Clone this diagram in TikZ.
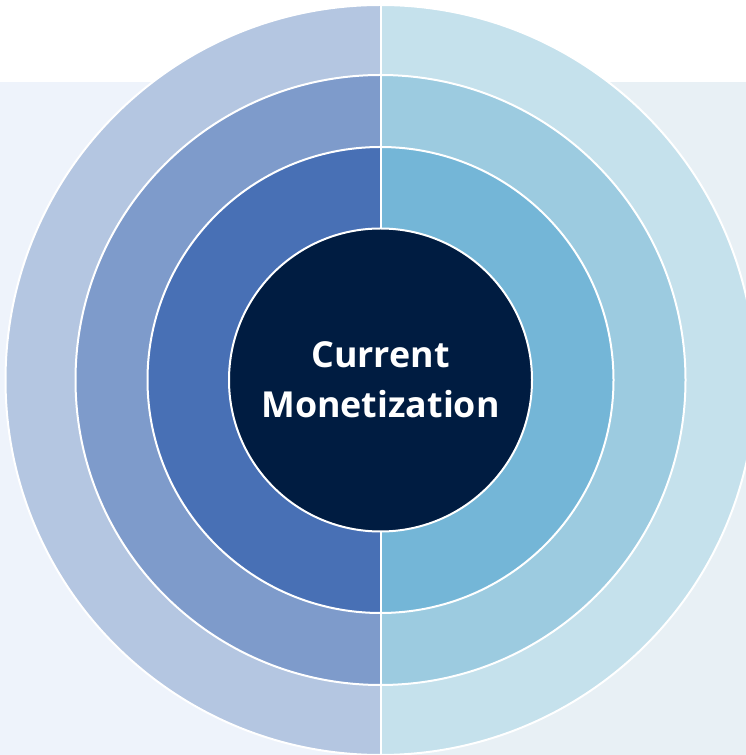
\documentclass[tikz,border=0pt]{standalone}
\usepackage{fontspec}
\setmainfont{Open Sans}
\definecolor{bgleft}{HTML}{EEF3FB}
\definecolor{bgright}{HTML}{E8F0F5}
\definecolor{outerL}{HTML}{B4C6E1}
\definecolor{outerR}{HTML}{C5E1EC}
\definecolor{midL}{HTML}{7E9BCB}
\definecolor{midR}{HTML}{9CCBE0}
\definecolor{innerL}{HTML}{4870B5}
\definecolor{innerR}{HTML}{74B6D7}
\definecolor{navy}{HTML}{001C41}
\tikzset{
  gap/.style={white,line width=2pt},
  corenode/.style={circle,fill=navy,draw=white,line width=2pt,minimum size=303pt,
    text=white,align=center,font=\bfseries\fontsize{35.8}{50}\selectfont}
}
\begin{document}
\begin{tikzpicture}[x=1pt,y=1pt]
  \useasboundingbox (0,0) rectangle (746,755);
  \clip (0,0) rectangle (746,755);
  % backdrop
  \fill[bgleft]  (0,0) rectangle (380.5,673);
  \fill[bgright] (380.5,0) rectangle (746,673);
  \coordinate (c) at (380.5,375);
  % rings, outside in
  \foreach \r/\lc/\rc in {375/outerL/outerR,305/midL/midR,233/innerL/innerR} {
    \fill[\lc] (c) -- ++(90:\r) arc[start angle=90,end angle=270,radius=\r] -- cycle;
    \fill[\rc] (c) -- ++(90:\r) arc[start angle=90,end angle=-90,radius=\r] -- cycle;
    \draw[gap] (c) circle[radius=\r];
  }
  \coordinate (top) at (380.5,750);
  \coordinate (bot) at (380.5,0);
  \draw[gap] (top) -- (bot);
  \node[corenode] (core) at (c) {Current\\Monetization};
\end{tikzpicture}
\end{document}
